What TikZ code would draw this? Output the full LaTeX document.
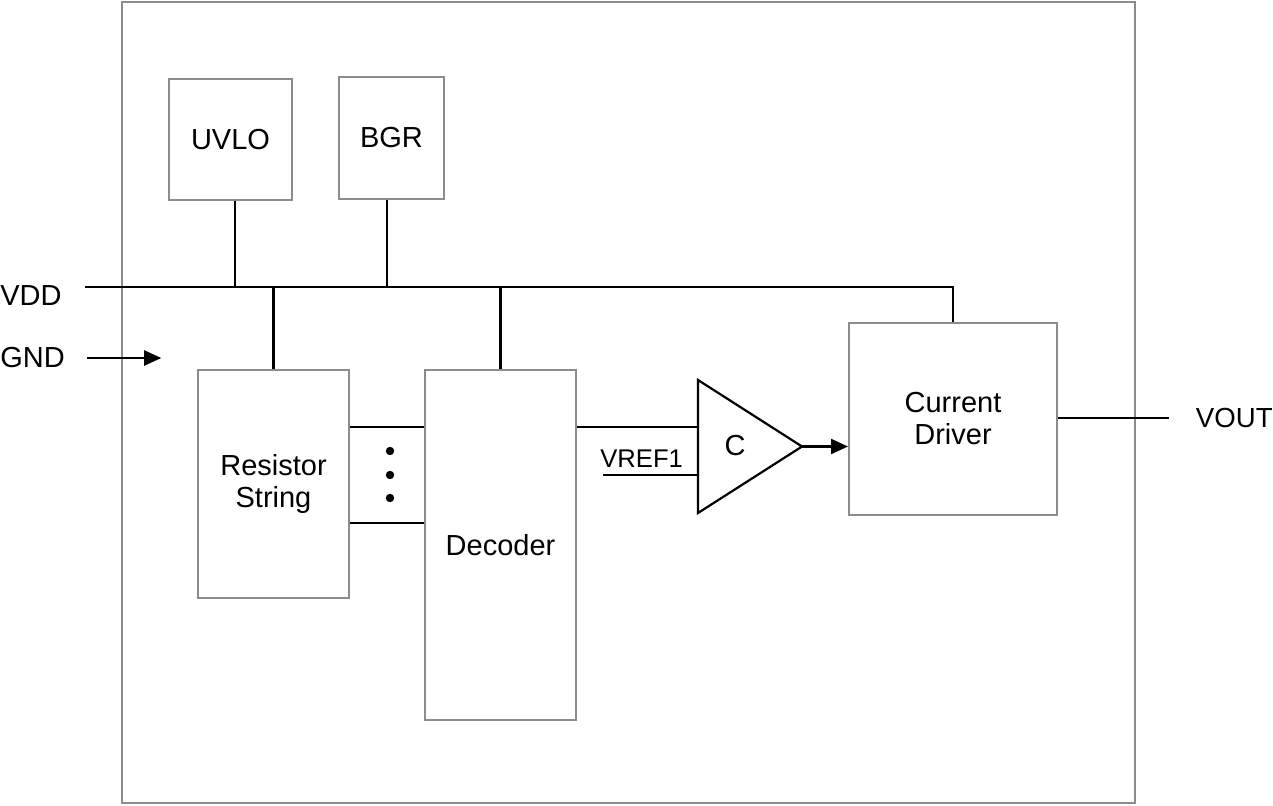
\documentclass[tikz,border=0pt]{standalone}
\usepackage{fontspec}
\setmainfont{Liberation Sans}
\usetikzlibrary{arrows.meta}
\begin{document}
\begin{tikzpicture}[x=0.5pt,y=-0.5pt,line cap=butt,line join=miter,>={Triangle[length=8.5pt,width=7.5pt]},
	blk/.style={draw=black!45,line width=1pt,inner sep=0pt,align=center,font=\fontsize{14.5}{16}\selectfont},
	wire/.style={draw=black,line width=1.1pt},
	lbl/.style={font=\fontsize{14.5}{16}\selectfont,inner sep=0pt}]
	\useasboundingbox (0,0) rectangle (1273,806);
	\draw[black!45,line width=1pt] (122,2) rectangle (1135,803);
	% blocks
	\node[blk,minimum width=61.5pt,minimum height=60.5pt] (uvlo) at (230.5,139.5) {UVLO};
	\node[blk,minimum width=52.5pt,minimum height=61pt] (bgr) at (391.5,138) {BGR};
	\node[blk,minimum width=75.5pt,minimum height=114pt] (res) at (273.5,484) {Resistor\\String};
	\node[blk,minimum width=75.5pt,minimum height=175pt] (dec) at (500.5,545) {Decoder};
	\node[blk,minimum width=104pt,minimum height=96pt] (drv) at (953,419) {Current\\Driver};
	% pins
	\node[lbl,anchor=west] (vdd) at (0,296) {VDD};
	\node[lbl,anchor=west] (gnd) at (0,358) {GND};
	\node[lbl,anchor=east,font=\fontsize{13.8}{16}\selectfont] (vout) at (1273,418) {VOUT};
	\node[lbl,anchor=base west,font=\fontsize{12.8}{15}\selectfont] (vref) at (600,467) {VREF1};
	% comparator
	\draw[wire] (698,380) -- (802,446.5) -- (698,513) -- cycle;
	\node[lbl] (cmp) at (735,446) {C};
	\coordinate (cin1) at (698,427);
	\coordinate (cin2) at (698,475);
	\coordinate (cout) at (802,446.5);
	\coordinate (vrefin) at (603,475);
	% supply bus
	\coordinate (bus0) at (85,287);
	\draw[wire] (bus0) -| (drv.north);
	\draw[wire] ([xshift=2.25pt]uvlo.south) -- ([xshift=2.25pt]uvlo.south |- bus0);
	\draw[wire] ([xshift=-2.25pt]bgr.south) -- ([xshift=-2.25pt]bgr.south |- bus0);
	\draw[wire] (res.north) -- (res.north |- bus0);
	\draw[wire] (dec.north) -- (dec.north |- bus0);
	\draw[wire,->] ([xshift=11pt]gnd.east) -- ++(74,0);
	% taps between string and decoder
	\foreach \y in {427,523}{
		\draw[wire] (res.east |- 0,\y) -- (dec.west |- 0,\y);
	}
	\foreach \y in {451,475,498}{
		\fill (390,\y) circle (2.1pt);
	}
	% signal path
	\draw[wire] (dec.east |- cin1) -- (cin1);
	\draw[wire] (vrefin) -- (cin2);
	\draw[wire,->] (cout) -- (drv.west |- cout);
	\draw[wire] (drv.east |- 0,418) -- ([xshift=-13.5pt]vout.west);
\end{tikzpicture}
\end{document}
